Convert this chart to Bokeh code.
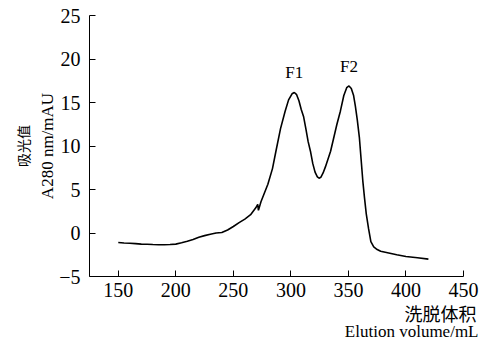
from bokeh.plotting import figure
from bokeh.models import Range1d, SingleIntervalTicker, Title, ColumnDataSource
from bokeh.core.properties import value
from bokeh.embed import file_html
from bokeh.resources import INLINE

# ---- data ----
volume = [150, 155, 160, 165, 170, 175, 180, 185, 190, 195, 200, 205, 210, 215,
          220, 225, 230, 235, 240, 245, 250, 255, 260, 265, 269.5, 271.2, 271.8,
          274, 277, 280, 284, 287, 291, 295, 298, 301, 303, 305, 307, 309, 311,
          313, 315, 317, 319, 321, 323, 324.5, 326, 328, 330, 332, 334.5, 337,
          340, 343, 346, 348.5, 350.5, 352.5, 354.5, 356, 357.7, 359.5, 361,
          362.5, 364, 365.5, 367.5, 369.5, 372, 375, 378, 385, 392, 400, 410, 419.5]
absorbance = [-1.10, -1.15, -1.18, -1.22, -1.28, -1.30, -1.33, -1.35, -1.35, -1.32,
              -1.28, -1.12, -0.95, -0.75, -0.50, -0.30, -0.15, 0.00, 0.05, 0.35,
              0.75, 1.20, 1.60, 2.10, 2.90, 3.30, 2.60, 3.60, 4.60, 5.60, 7.40,
              9.40, 12.0, 14.0, 15.3, 16.0, 16.15, 15.9, 15.2, 14.2, 13.4, 12.0,
              10.5, 9.4, 8.0, 7.0, 6.45, 6.30, 6.40, 6.90, 7.60, 8.40, 9.40, 10.8,
              12.5, 14.0, 15.8, 16.7, 16.9, 16.6, 15.8, 14.6, 13.0, 11.0, 8.5,
              6.0, 4.0, 2.2, 0.5, -1.0, -1.6, -1.9, -2.1, -2.3, -2.5, -2.7, -2.85, -3.0]
peak_labels = ["F1", "F2"]
peak_windows = [(290, 320), (335, 365)]
x_ticks_interval = 50
y_ticks_interval = 5

SERIF = "Liberation Serif"
CJK = "Noto Sans CJK SC"

p = figure(width=482, height=339, output_backend="svg", toolbar_location=None,
           x_range=Range1d(125, 450), y_range=Range1d(-5, 25),
           min_border_left=89, min_border_right=19, min_border_top=15,
           min_border_bottom=63)
p.outline_line_color = None
p.grid.visible = False
p.background_fill_color = "white"
p.border_fill_color = "white"

p.line(volume, absorbance, line_color="black", line_width=1.6)

# peak labels
px, py = [], []
for lo, hi in peak_windows:
    idx = [i for i, v in enumerate(volume) if lo <= v <= hi]
    im = max(idx, key=lambda i: absorbance[i])
    px.append(volume[im])
    py.append(absorbance[im])
src = ColumnDataSource(dict(x=px, y=py, t=peak_labels))
p.text(x="x", y="y", text="t", source=src, text_font=value(SERIF),
       text_font_size="17px", text_align="center", text_baseline="bottom",
       y_offset=-10, text_color="black")

for ax in (p.xaxis, p.yaxis):
    ax.axis_line_color = "black"
    ax.axis_line_width = 1
    ax.major_tick_line_color = "black"
    ax.major_tick_in = 6
    ax.major_tick_out = 0
    ax.minor_tick_line_color = None
    ax.major_label_text_font = SERIF
    ax.major_label_text_font_size = "20px"
    ax.major_label_text_color = "black"

p.xaxis.ticker = SingleIntervalTicker(interval=x_ticks_interval)
p.yaxis.ticker = SingleIntervalTicker(interval=y_ticks_interval)
p.xaxis.major_label_standoff = 2
p.yaxis.major_label_standoff = 5

# axis titles (stacked outward from the axes)
p.add_layout(Title(text="洗脱体积", align="right", offset=-13, standoff=-3,
                   text_font=CJK, text_font_size="18px", text_font_style="normal",
                   text_color="black"), "below")
p.add_layout(Title(text="Elution volume/mL", align="right", offset=-15, standoff=-10,
                   text_font=SERIF, text_font_size="17px", text_font_style="normal",
                   text_color="black"), "below")
p.add_layout(Title(text="A280 nm/mAU", align="center", standoff=0,
                   text_font=SERIF, text_font_size="17px", text_font_style="normal",
                   text_color="black"), "left")
p.add_layout(Title(text="吸光值", align="center", standoff=6,
                   text_font=CJK, text_font_size="14px", text_font_style="normal",
                   text_color="black"), "left")

open("out.html", "w").write(file_html(p, INLINE))
